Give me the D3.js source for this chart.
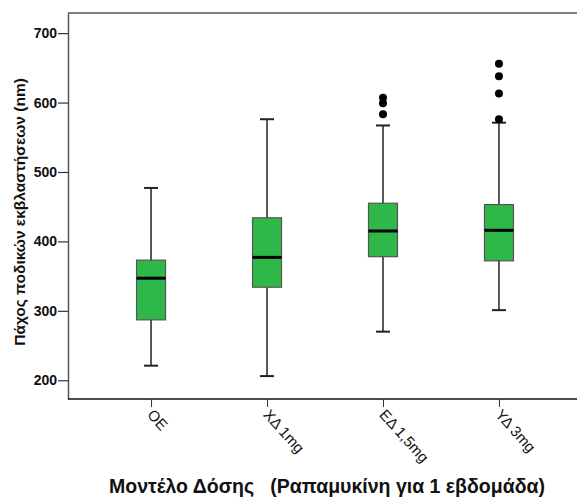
<!DOCTYPE html>
<html>
<head>
<meta charset="utf-8">
<script src="https://cdn.jsdelivr.net/npm/d3@7"></script>
<style>
  body { margin: 0; background: #fff; }
  text { font-family: 'Liberation Sans', Arial, sans-serif; }
</style>
</head>
<body>
<div id="chart"></div>
<script>
const groups = ['ΟΕ', 'ΧΔ 1mg', 'ΕΔ 1,5mg', 'ΥΔ 3mg']
const whiskerLow = [221, 206, 270, 301]
const q1 = [287, 334, 378, 372]
const medians = [347, 377, 415, 416]
const q3 = [373, 434, 455, 453]
const whiskerHigh = [477, 576, 567, 571]
const outliers = [[], [], [583, 599, 607], [576, 613, 638, 656]]
const yTicks = [200, 300, 400, 500, 600, 700]

const width = 577
const height = 499
const margin = { top: 13, left: 68, bottom: 100 }

const svg = d3
  .select('#chart')
  .append('svg')
  .attr('width', width)
  .attr('height', height)

const xScale = d3
  .scalePoint()
  .domain(groups)
  .range([margin.left, 582])
  .padding(0.716)

const yScale = d3
  .scaleLinear()
  .domain([173, 729])
  .range([399, margin.top])

const boxes = groups.map((g, i) => ({
  group: g,
  low: whiskerLow[i],
  q1: q1[i],
  median: medians[i],
  q3: q3[i],
  high: whiskerHigh[i],
  outliers: outliers[i]
}))

// frame: top line and left axis
svg
  .append('line')
  .attr('x1', margin.left)
  .attr('x2', width)
  .attr('y1', margin.top)
  .attr('y2', margin.top)
  .attr('stroke', '#555')
  .attr('stroke-width', 1.5)

const yAxis = svg
  .append('g')
  .attr('transform', `translate(${margin.left},0)`)
  .call(d3.axisLeft(yScale).tickValues(yTicks).tickSize(10).tickSizeOuter(0))

yAxis.select('.domain').attr('stroke', '#555').attr('stroke-width', 1.5)
yAxis.selectAll('.tick line').attr('stroke', '#333').attr('stroke-width', 1.2)
yAxis
  .selectAll('.tick text')
  .attr('font-size', 14)
  .attr('font-weight', 'bold')
  .attr('fill', '#111')
  .attr('x', -11)
  .attr('font-family', "'Liberation Sans', Arial, sans-serif")

const xAxis = svg
  .append('g')
  .attr('transform', `translate(0,399)`)
  .call(d3.axisBottom(xScale).tickSize(8).tickSizeOuter(0))

xAxis.select('.domain').attr('stroke', '#111').attr('stroke-width', 1.5)
  .attr('d', `M${margin.left},0H${width}`)
xAxis.selectAll('.tick line').attr('stroke', '#333')
xAxis
  .selectAll('.tick text')
  .attr('font-size', 15)
  .attr('fill', '#111')
  .attr('font-family', "'Liberation Sans', Arial, sans-serif")
  .attr('text-anchor', 'start')
  .attr('x', 0)
  .attr('y', 0)
  .attr('dy', '0.72em')
  .attr('transform', 'translate(3,9) rotate(48)')

// whiskers
const boxW = 29
const capW = 14
const g = svg.append('g')

g.selectAll('.whisker')
  .data(boxes)
  .enter()
  .append('line')
  .attr('class', 'whisker')
  .attr('x1', d => xScale(d.group))
  .attr('x2', d => xScale(d.group))
  .attr('y1', d => yScale(d.low))
  .attr('y2', d => yScale(d.high))
  .attr('stroke', '#222')
  .attr('stroke-width', 1.5)

g.selectAll('.cap-high')
  .data(boxes)
  .enter()
  .append('line')
  .attr('x1', d => xScale(d.group) - capW / 2)
  .attr('x2', d => xScale(d.group) + capW / 2)
  .attr('y1', d => yScale(d.high))
  .attr('y2', d => yScale(d.high))
  .attr('stroke', '#222')
  .attr('stroke-width', 2)

g.selectAll('.cap-low')
  .data(boxes)
  .enter()
  .append('line')
  .attr('x1', d => xScale(d.group) - capW / 2)
  .attr('x2', d => xScale(d.group) + capW / 2)
  .attr('y1', d => yScale(d.low))
  .attr('y2', d => yScale(d.low))
  .attr('stroke', '#222')
  .attr('stroke-width', 2)

g.selectAll('.box')
  .data(boxes)
  .enter()
  .append('rect')
  .attr('x', d => xScale(d.group) - boxW / 2)
  .attr('width', boxW)
  .attr('y', d => yScale(d.q3))
  .attr('height', d => yScale(d.q1) - yScale(d.q3))
  .attr('fill', '#2fb84a')
  .attr('stroke', '#555')
  .attr('stroke-width', 1.2)

g.selectAll('.median')
  .data(boxes)
  .enter()
  .append('line')
  .attr('x1', d => xScale(d.group) - boxW / 2)
  .attr('x2', d => xScale(d.group) + boxW / 2)
  .attr('y1', d => yScale(d.median))
  .attr('y2', d => yScale(d.median))
  .attr('stroke', '#000')
  .attr('stroke-width', 3)

boxes.forEach(b => {
  g.selectAll(null)
    .data(b.outliers)
    .enter()
    .append('circle')
    .attr('cx', xScale(b.group))
    .attr('cy', d => yScale(d))
    .attr('r', 4)
    .attr('fill', '#000')
})

// axis titles
svg
  .append('text')
  .attr('transform', 'translate(25,212) rotate(-90)')
  .attr('text-anchor', 'middle')
  .attr('font-size', 15.5)
  .attr('font-weight', 'bold')
  .attr('fill', '#111')
  .text('Πάχος ποδικών εκβλαστήσεων (nm)')

svg
  .append('text')
  .attr('x', 327)
  .attr('y', 493)
  .attr('text-anchor', 'middle')
  .attr('font-size', 19.5)
  .attr('font-weight', 'bold')
  .attr('fill', '#111')
  .attr('xml:space', 'preserve')
  .style('white-space', 'pre')
  .text('Μοντέλο Δόσης   (Ραπαμυκίνη για 1 εβδομάδα)')
</script>
</body>
</html>
